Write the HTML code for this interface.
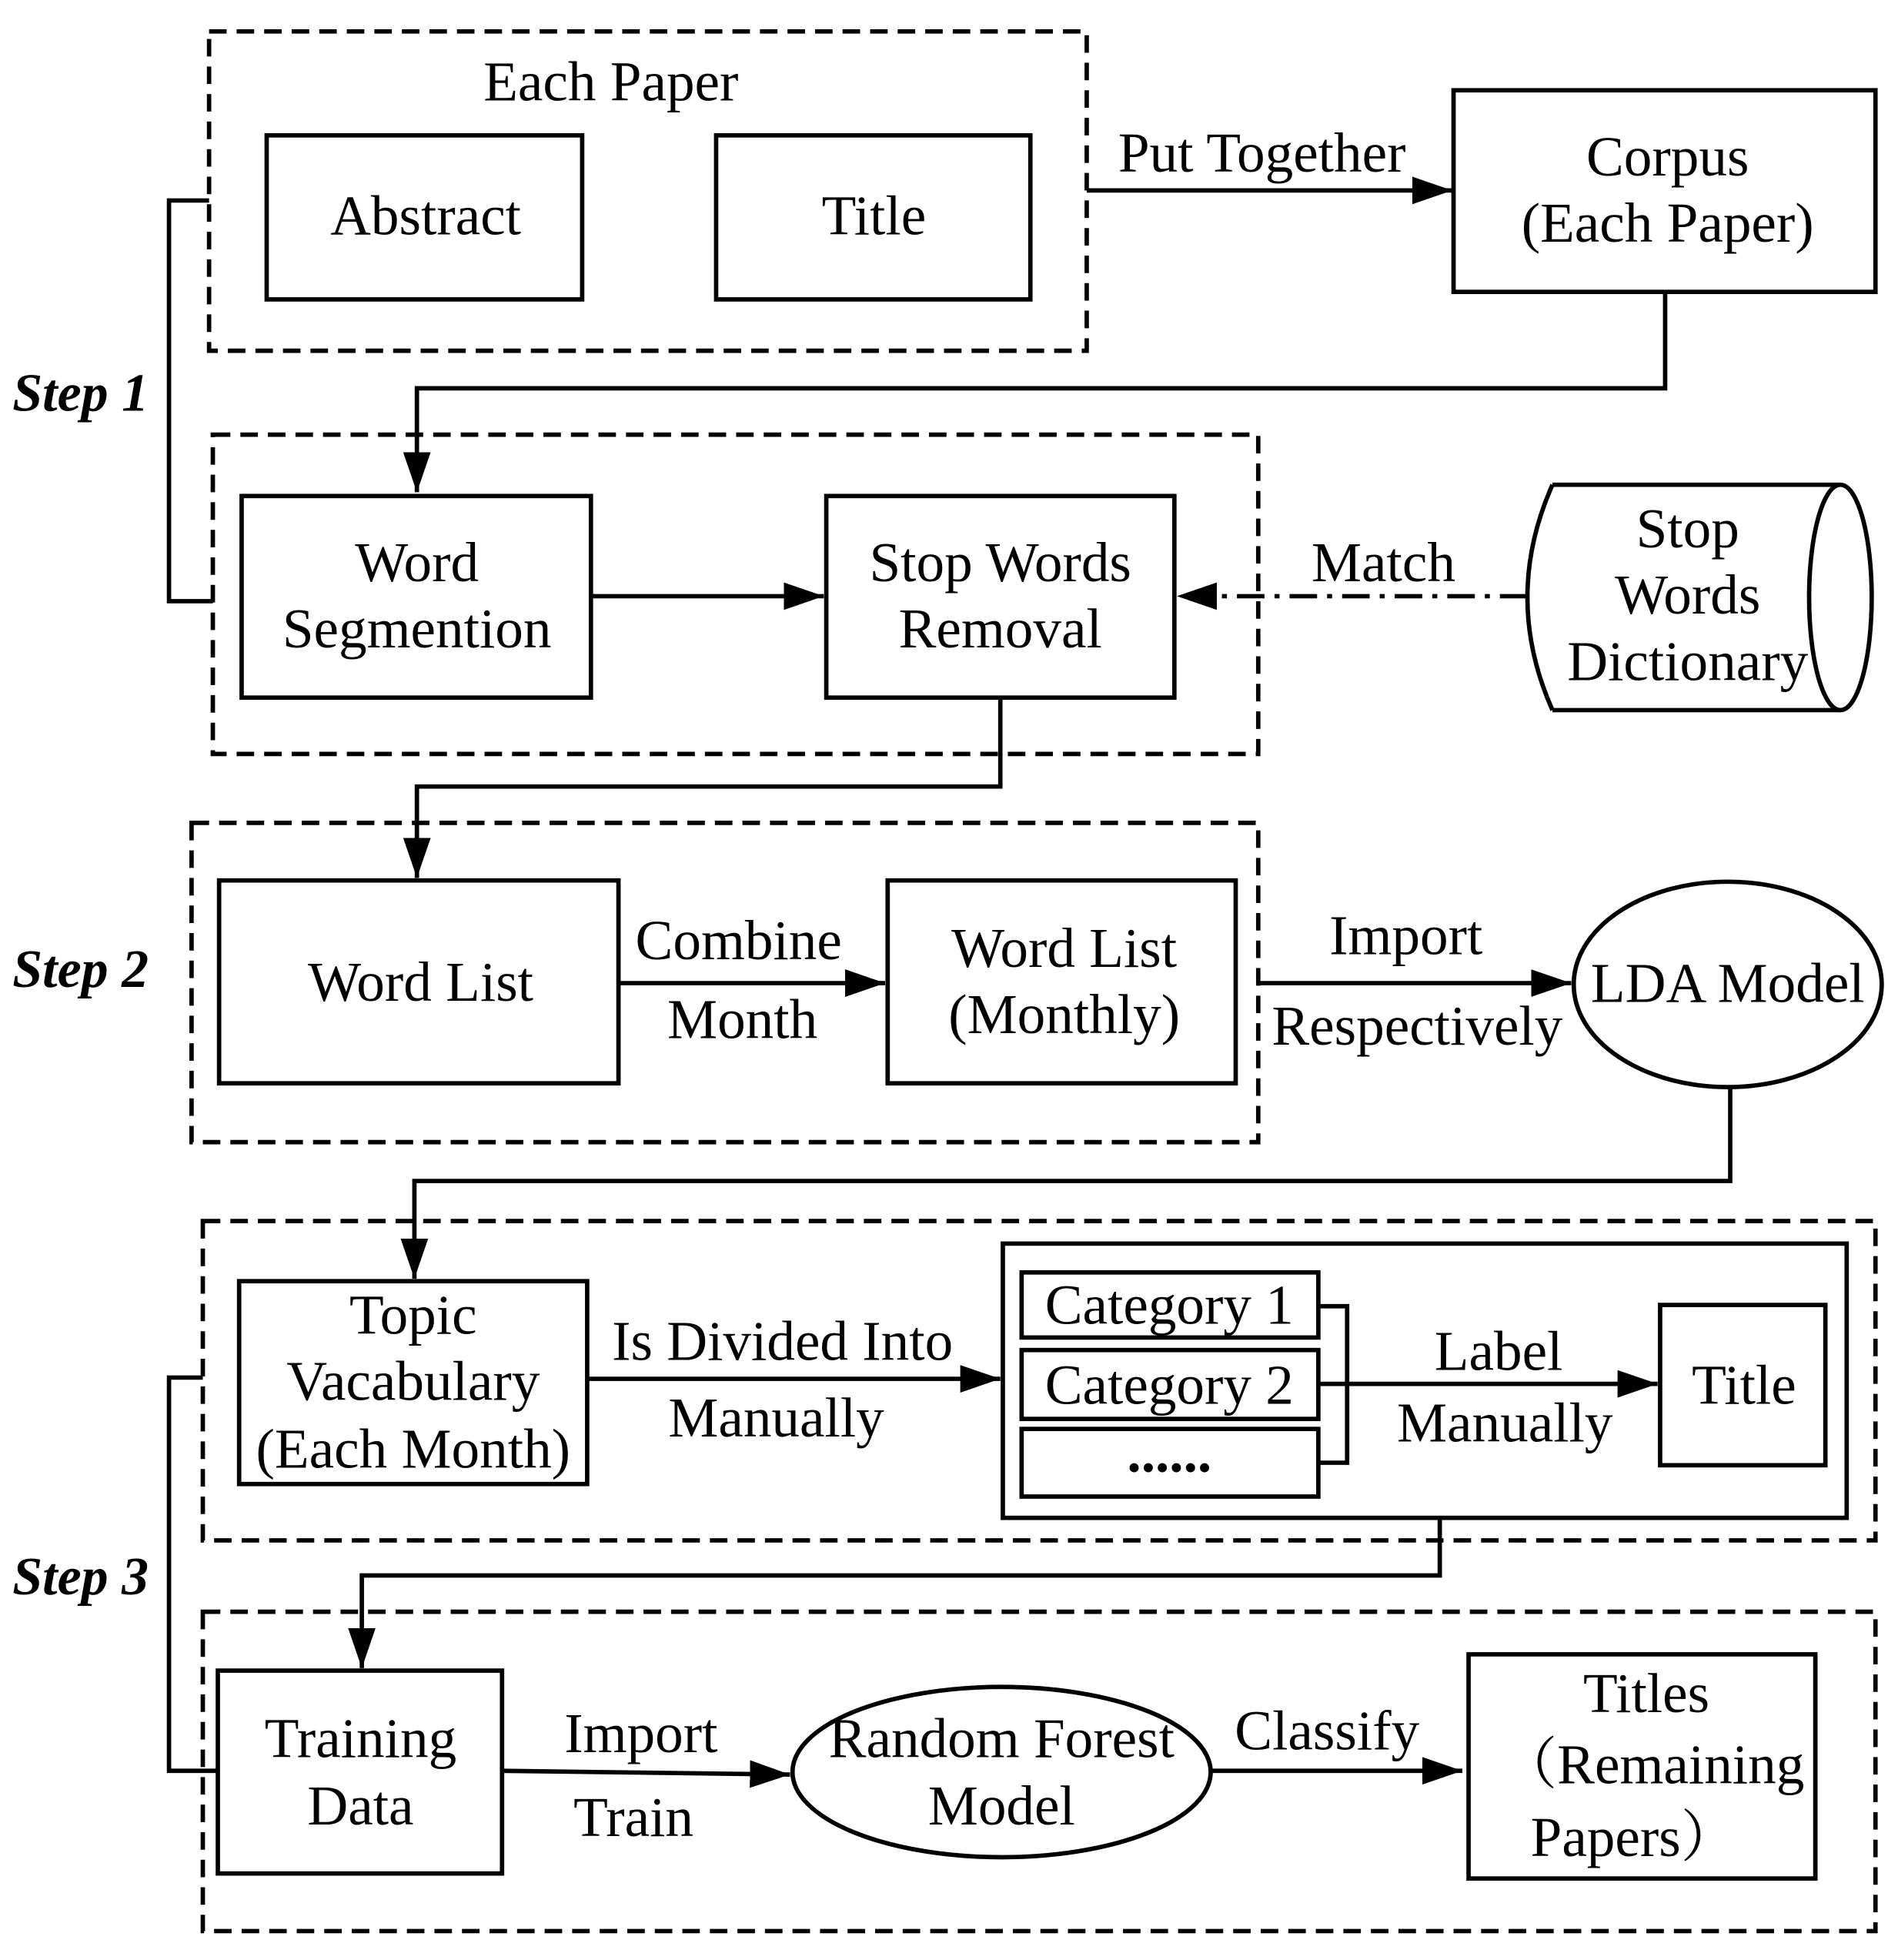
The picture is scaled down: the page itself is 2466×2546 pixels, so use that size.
<!DOCTYPE html>
<html><head><meta charset="utf-8"><style>
html,body{margin:0;padding:0;background:#fff;}
svg{display:block;}
text{font-family:"Liberation Serif","Noto Serif CJK SC",serif;font-size:45px;fill:#000;text-anchor:middle;}
.s{font-weight:bold;font-style:italic;text-anchor:start;font-size:43px;}
</style></head><body>
<svg width="2466" height="2546" viewBox="0 0 1516 1565" xmlns="http://www.w3.org/2000/svg">
<defs>
<marker id="b" markerWidth="32" markerHeight="22" refX="32" refY="11" orient="auto" markerUnits="userSpaceOnUse"><path d="M0,0 L32,11 L0,22z" fill="#000"/></marker></defs>
<g fill="none" stroke="#000" stroke-width="3.5">
<g stroke-dasharray="14,8">
<rect x="167" y="25" width="701" height="255"/>
<rect x="170" y="347" width="835" height="255"/>
<rect x="153" y="657" width="852" height="255"/>
<rect x="162" y="975" width="1336" height="255"/>
<rect x="162" y="1287" width="1336" height="255"/>
</g>
<rect x="213" y="108" width="252" height="131"/>
<rect x="572" y="108" width="251" height="131"/>
<rect x="1161" y="72" width="337" height="161"/>
<rect x="193" y="396" width="279" height="161"/>
<rect x="660" y="396" width="278" height="161"/>
<rect x="175" y="703" width="319" height="162"/>
<rect x="709" y="703" width="278" height="162"/>
<rect x="191" y="1023" width="278" height="162"/>
<rect x="801" y="993" width="674" height="219"/>
<rect x="816" y="1016" width="237" height="52"/>
<rect x="816" y="1078" width="237" height="55"/>
<rect x="816" y="1141" width="237" height="54"/>
<rect x="1326" y="1042" width="132" height="128"/>
<rect x="174" y="1334" width="227" height="162"/>
<rect x="1173" y="1321" width="277" height="179"/>
<ellipse cx="1380" cy="786" rx="123" ry="82"/>
<ellipse cx="800" cy="1415" rx="167" ry="68"/>
<path d="M1240,387 L1470,387 M1240,567 L1470,567 M1240,387 Q1200,477 1240,567"/>
<ellipse cx="1470" cy="477" rx="25" ry="90"/>
<path d="M868,152 L1160,152" marker-end="url(#b)"/>
<path d="M1330,233 V310 H333 V393" marker-end="url(#b)"/>
<path d="M167,160 H135 V480 H170"/>
<path d="M472,476 H658" marker-end="url(#b)"/>
<path d="M1220,476 H940" stroke-dasharray="22,8,4,8" marker-end="url(#b)"/>
<path d="M799,557 V628 H333 V701" marker-end="url(#b)"/>
<path d="M494,785 H707" marker-end="url(#b)"/>
<path d="M1005,785 H1255" marker-end="url(#b)"/>
<path d="M1382,868 V943 H331 V1021" marker-end="url(#b)"/>
<path d="M469,1101 H799" marker-end="url(#b)"/>
<path d="M1053,1043 H1076 V1168 H1053"/>
<path d="M1053,1105 H1324" marker-end="url(#b)"/>
<path d="M1150,1212 V1258 H289 V1332" marker-end="url(#b)"/>
<path d="M162,1100 H135 V1414 H174"/>
<path d="M401,1414 L631,1417" marker-end="url(#b)"/>
<path d="M968,1414 H1168" marker-end="url(#b)"/>
</g>
<text x="488" y="80">Each Paper</text>
<text x="340" y="187">Abstract</text>
<text x="698" y="187">Title</text>
<text x="1008" y="137">Put Together</text>
<text x="1332" y="140">Corpus</text>
<text x="1332" y="193">(Each Paper)</text>
<text class="s" x="10" y="328">Step 1</text>
<text x="333" y="464">Word</text>
<text x="333" y="517">Segmention</text>
<text x="799" y="464">Stop Words</text>
<text x="799" y="517">Removal</text>
<text x="1105" y="464">Match</text>
<text x="1348" y="437">Stop</text>
<text x="1348" y="490">Words</text>
<text x="1348" y="543">Dictionary</text>
<text class="s" x="10" y="788">Step 2</text>
<text x="336" y="799">Word List</text>
<text x="590" y="766">Combine</text>
<text x="593" y="829">Month</text>
<text x="850" y="772">Word List</text>
<text x="850" y="825">(Monthly)</text>
<text x="1123" y="762">Import</text>
<text x="1132" y="834">Respectively</text>
<text x="1380" y="800">LDA Model</text>
<text x="330" y="1065">Topic</text>
<text x="330" y="1118">Vacabulary</text>
<text x="330" y="1172">(Each Month)</text>
<text x="625" y="1086">Is Divided Into</text>
<text x="620" y="1147">Manually</text>
<text x="934" y="1057">Category 1</text>
<text x="934" y="1121">Category 2</text>
<text x="934" y="1175" style="font-weight:bold">......</text>
<text x="1197" y="1094">Label</text>
<text x="1202" y="1151">Manually</text>
<text x="1393" y="1121">Title</text>
<text class="s" x="10" y="1273">Step 3</text>
<text x="288" y="1403">Training</text>
<text x="288" y="1457">Data</text>
<text x="512" y="1399">Import</text>
<text x="506" y="1466">Train</text>
<text x="800" y="1403">Random Forest</text>
<text x="800" y="1457">Model</text>
<text x="1060" y="1397">Classify</text>
<text x="1315" y="1367">Titles</text>
<text x="1320" y="1424">（Remaining</text>
<text x="1305" y="1482">Papers）</text>
</svg>
</body></html>
